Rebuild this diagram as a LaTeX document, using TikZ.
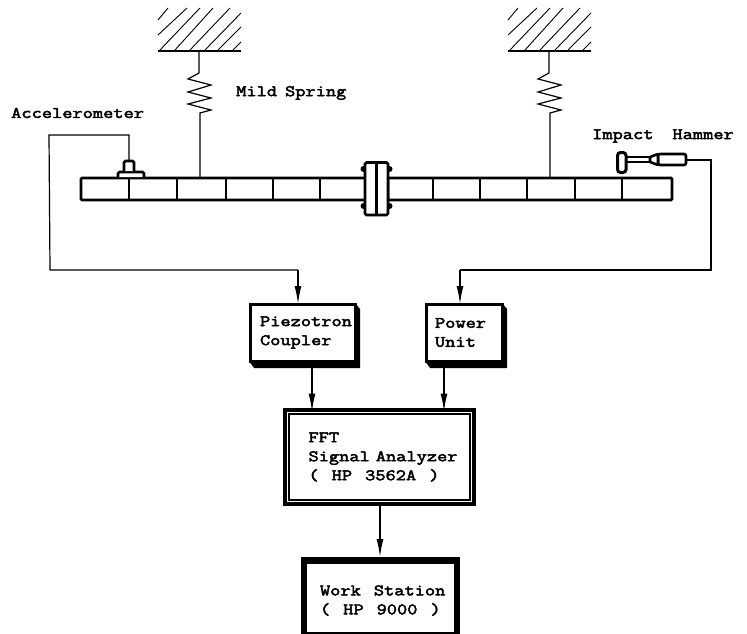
\documentclass[tikz,border=0pt]{standalone}
\usepackage{fontspec}
\setmonofont{Latin Modern Mono}[FakeBold=3,FakeStretch=1.24]
\usetikzlibrary{arrows.meta}
\tikzset{
  lbl/.style={font=\ttfamily\fontsize{16}{19}\selectfont,anchor=west,inner sep=0pt,align=left},
  box/.style={draw,line width=3pt,fill=white,inner xsep=0pt,inner ysep=0pt,outer sep=0pt,
     font=\ttfamily\fontsize{16}{19}\selectfont,align=left},
  fftbox/.style={box,line width=7pt},
  wsbox/.style={box,line width=6.5pt},
  wire/.style={line width=1.2pt},
  flow/.style={line width=1.4pt,-{Latex[length=18pt,width=7pt]}},
  wall/.style={line width=2.8pt},
  hatch/.style={line width=0.9pt},
  beam/.style={draw,line width=2.6pt,fill=white,rounded corners=1pt},
  rib/.style={line width=2.6pt},
  part/.style={draw,line width=2.6pt,fill=white,rounded corners=1.5pt},
}
\newcommand{\ind}[1]{\hspace*{#1pt}}
\begin{document}
\begin{tikzpicture}[x=1pt,y=-1pt]
\useasboundingbox (0,0) rectangle (747,634);
% walls
\foreach \dx in {0,350}{
 \begin{scope}[xshift=\dx pt]
  \foreach \xa/\ya/\xb/\yb in {158/20/168/8,158/35/187/8,160/50/200/8,175/50/213/8,190/50/230/8,205/50/241/13,218/50/241/27,233/50/241/42}
    \draw[hatch] (\xa,\ya) -- (\xb,\yb);
  \draw[wall] (158,51) -- (241,51);
  \draw[wire] (199,51) -- (199,73) -- (188,79) -- (211,85) -- (188,92) -- (211,98) -- (188,104) -- (211,110) -- (200,113) -- (200,178);
 \end{scope}
}
% beam
\draw[beam] (81,178) rectangle (366,200);
\draw[beam] (388,178) rectangle (672,200);
\foreach \x in {129,177,226,273,320,433,480,527,575,622}
  \draw[rib] (\x,178) -- (\x,200);
% flange
\foreach \bx in {363.5,389.5}\foreach \by in {169,206}
  \fill[black] (\bx,\by) circle (3pt);
\draw[part] (365,162.5) rectangle (388,215);
\fill[black] (375,162) rectangle (378,215);
% accelerometer
\draw[part] (118,177) -- (118,172) -- (144,172) -- (144,177);
\draw[part] (124,171) -- (124,161) -- (134,161) -- (134,171);
\coordinate (acctop) at (129,160);
\coordinate (acc1) at (49,135);
\coordinate (acc2) at (50,270);
% hammer
\draw[part,line width=3pt,rounded corners=3pt] (617.5,152.5) rectangle (626,172.5);
\draw[line width=1.8pt] (627,157) -- (651,157) (627,162) -- (651,162);
\draw[part,rounded corners=2pt] (658,154) rectangle (686,165);
\draw[part,rounded corners=1pt] (658,154) -- (650,157) -- (650,162) -- (658,165) -- cycle;
\coordinate (hamtail) at (687,160);
\coordinate (ham1) at (711,160);
\coordinate (ham2) at (711,270);
% drop shadows
\fill (355,303) -- (360,309) -- (360,368) -- (254,368) -- (249,361) -- cycle;
\fill (502,303) -- (507,309) -- (507,368) -- (430,368) -- (425,361) -- cycle;
% boxes
\node[box,minimum width=105pt,minimum height=57pt,text width=105pt] (pc) at (302.5,332.5) {\ind{10}Piezotron\\\ind{10}Coupler};
\node[box,minimum width=76pt,minimum height=57pt,text width=76pt] (pu) at (464,332.5) {\ind{9}Power\\\ind{9}Unit};
\node[fftbox,minimum width=186pt,minimum height=91pt,text width=186pt] (fft) at (379.5,457) {\spaceskip=13pt\relax\ind{22}FFT\\\ind{22}{\spaceskip=6pt\relax Signal Analyzer}\\\ind{22}( HP 3562A )};
\draw[white,line width=1pt] ([shift={(1,1)}]fft.north west) rectangle ([shift={(-1,-1)}]fft.south east);
\node[wsbox,minimum width=153pt,minimum height=75pt,text width=153pt] (ws) at (380.5,598) {\spaceskip=13pt\relax\rule{0pt}{15pt}\ind{16}Work Station\\\ind{16}( HP 9000 )};
% labels
\node[lbl] (tacc) at (11,113) {Accelerometer};
\node[lbl] (tspr) at (236,93) {\spaceskip=8pt\relax Mild Spring};
\node[lbl] (tham) at (592,136) {\spaceskip=19pt\relax Impact Hammer};
% connectors
\draw[wire] (acctop) -- (129,135) -- (acc1) -- (acc2) -- (298,270) coordinate (acc3);
\draw[flow] (acc3) -- (pc.north -| acc3);
\draw[wire] (hamtail) -- (ham1) -- (ham2) -- (460,270) coordinate (ham3);
\draw[flow] (ham3) -- (pu.north -| ham3);
\coordinate (p1) at (312,361);\coordinate (p2) at (444,361);
\draw[flow] (pc.south -| p1) -- (fft.north -| p1);
\draw[flow] (pu.south -| p2) -- (fft.north -| p2);
\draw[flow] (380,506) -- (380,557);
\end{tikzpicture}
\end{document}
